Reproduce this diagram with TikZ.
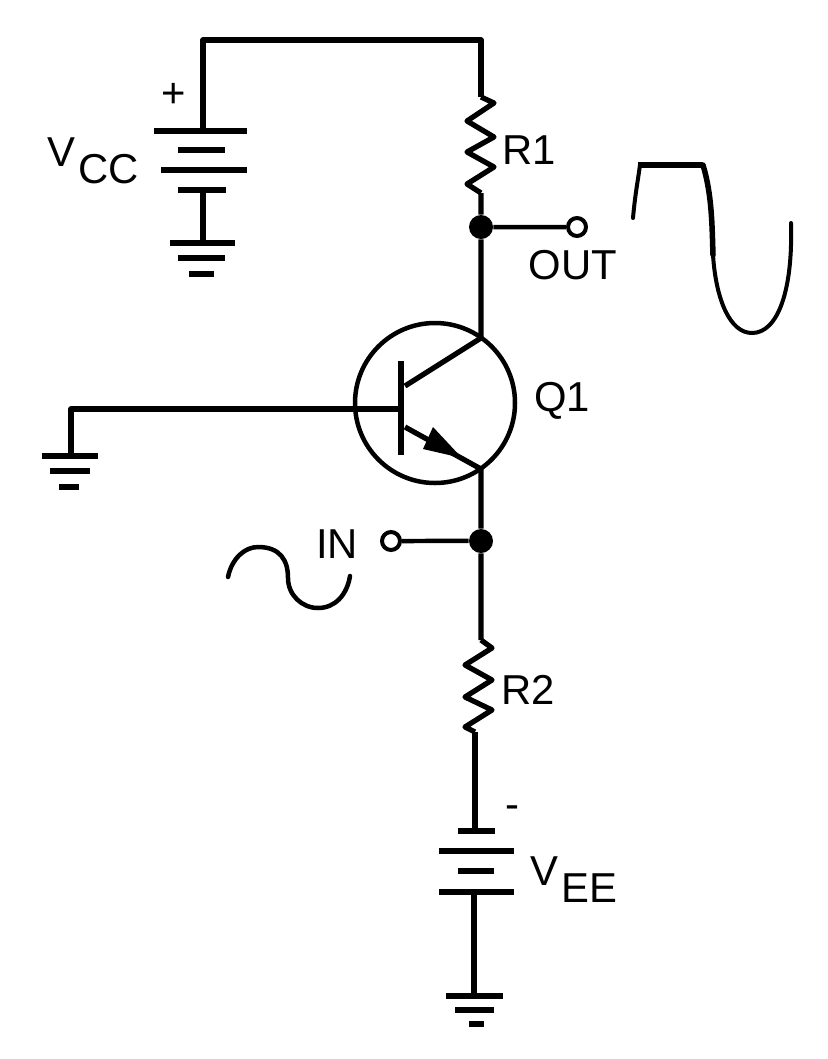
\documentclass[tikz,border=0pt]{standalone}
\usepackage{fontspec}
\setmainfont{Liberation Sans}
\newcommand{\lowsub}[2]{#1\kern1.7pt\raisebox{-10pt}{#2}}
\begin{document}
\begin{tikzpicture}[scale=0.2]
\tikzstyle{every node}+=[inner sep=0pt, font=\fontsize{23.8}{26}\selectfont]
\tikzstyle{wire}=[black, line width=0.105cm, line join=round]
\tikzstyle{thinwire}=[black, line width=0.09cm, line join=round]
\tikzstyle{plate}=[black, line width=0.11cm]
\tikzstyle{dot}=[circle, fill=black, minimum size=0.48cm]
\tikzstyle{terminal}=[circle, draw=black, fill=white, line width=0.08cm, minimum size=0.36cm]
\useasboundingbox (0,0) rectangle (82.8,-105.9);
\node [circle, draw=black, line width=0.09cm, minimum size=3.2cm] (q1) at (43.5,-40.3) {};
\node [dot] (outdot) at (48.1,-22.7) {};
\node [dot] (indot) at (48.1,-54.1) {};
\node [terminal] (outpin) at (57.7,-22.7) {};
\node [terminal] (inpin) at (39.1,-54.1) {};
\coordinate (vcctop) at (20.3,-13.1);
\coordinate (cornera) at (20.3,-4);
\coordinate (cornerb) at (48.1,-4);
\coordinate (r1top) at (48.1,-9.7);
\coordinate (r1end) at (48.1,-19.3);
\coordinate (coll) at (48.1,-33.8);
\coordinate (emit) at (48.1,-46.9);
\coordinate (r2top) at (48.1,-64);
\coordinate (r2end) at (47.5,-73.2);
\coordinate (veetop) at (47.5,-83.1);
\coordinate (veebot) at (47.4,-89.2);
\coordinate (gndc) at (47.4,-99.6);
\coordinate (vccbot) at (20.3,-19);
\coordinate (gnda) at (20.3,-24.3);
\coordinate (basecorner) at (7.1,-40.9);
\coordinate (gndb) at (7.1,-45.6);
\coordinate (bar) at (40.1,-40.9);
\coordinate (barc) at (40.5,-38.6);
\coordinate (bare) at (40.5,-42.7);
\draw [wire] (vcctop) -- (cornera) -- (cornerb) -- (r1top);
\draw [wire] (r1top) -- ++(1.3,-0.6) -- ++(-2.7,-1.8) -- ++(2.7,-1.6) -- ++(-2.7,-1.5) -- ++(2.7,-1.5) -- ++(-2.7,-1.7) -- (r1end);
\draw [wire] (r1end) -- (outdot);
\draw [wire] (outdot) -- (coll);
\draw [thinwire] (outdot) -- (outpin);
\draw [wire] (emit) -- (indot);
\draw [thinwire] (indot) -- (inpin);
\draw [wire] (indot) -- (r2top);
\draw [wire] (r2top) -- ++(1.1,-0.8) -- ++(-2.7,-1.7) -- ++(2.7,-1.5) -- ++(-2.7,-1.7) -- ++(2.7,-1.3) -- ++(-2.7,-1.7) -- (r2end);
\draw [wire] (r2end) -- (veetop);
\draw [wire] (veebot) -- (gndc);
\draw [wire] (vccbot) -- (gnda);
\draw [wire] (bar) -- (basecorner) -- (gndb);
\draw [wire] (40.1,-36.1) -- (40.1,-45.5);
\draw [wire] (barc) -- (coll);
\draw [wire] (bare) -- (emit);
\fill [black] (43.3,-42.7) -- (42.3,-44.9) -- (46.2,-45.8) -- cycle;
\draw [plate] (15.4,-13.1) -- (24.7,-13.1);
\draw [plate] (17.8,-15) -- (22.5,-15);
\draw [plate] (16.1,-17) -- (24.7,-17);
\draw [plate] (17.8,-19) -- (22.6,-19);
\draw [plate] (17,-24.3) -- (23.5,-24.3);
\draw [plate] (17.8,-25.8) -- (22.5,-25.8);
\draw [plate] (18.9,-27.4) -- (21.4,-27.4);
\draw [plate] (4.2,-45.6) -- (9.8,-45.6);
\draw [plate] (5,-47.1) -- (9,-47.1);
\draw [plate] (5.9,-48.7) -- (7.9,-48.7);
\draw [plate] (45.8,-83.1) -- (49.5,-83.1);
\draw [plate] (43.9,-85.1) -- (51.4,-85.1);
\draw [plate] (45.8,-87.1) -- (49.4,-87.1);
\draw [plate] (43.9,-89.2) -- (51.4,-89.2);
\draw [plate] (44.6,-99.6) -- (50.3,-99.6);
\draw [plate] (45.5,-101) -- (49.4,-101);
\draw [plate] (46.9,-102.4) -- (48.4,-102.4);
\draw [line width=0.08cm, line cap=round] (63.3,-21.8) .. controls (63.5,-19.5) and (63.8,-18) .. (64,-16.5);
\draw [line width=0.13cm] (63.8,-16.5) -- (70.3,-16.5);
\draw [line width=0.11cm, line cap=round] (70.3,-16.5) .. controls (71.2,-19.5) and (71.2,-22.5) .. (71.3,-25.5);
\draw [line width=0.08cm, line cap=round] (71.3,-25.5) .. controls (71.6,-30) and (73,-33.3) .. (75.2,-33.3) .. controls (77.8,-33.3) and (79.3,-29) .. (79.1,-22.3);
\draw [line width=0.09cm, line cap=round] (22.8,-57.7) .. controls (23.2,-55.8) and (24.5,-54.7) .. (25.8,-54.7) .. controls (28,-54.7) and (28.8,-56) .. (28.8,-57.8) .. controls (28.8,-59.5) and (30.2,-60.8) .. (31.8,-60.8) .. controls (33.5,-60.8) and (34.7,-59.5) .. (35,-57.6);
\node (plus) at (17.4,-9.5) {+};
\node (minus) at (51.2,-81.2) {-};
\node [anchor=north west] (vcc) at (4.7,-13.7) {\lowsub{V}{CC}};
\node [anchor=north west] (vee) at (53,-85.6) {\lowsub{V}{EE}};
\node (r1) at (52.9,-15) {R1};
\node (r2) at (52.8,-69) {R2};
\node (out) at (57.3,-26.5) {OUT};
\node (in) at (33.7,-54.4) {IN};
\node (q1label) at (56.2,-40.1) {Q1};
\end{tikzpicture}
\end{document}
